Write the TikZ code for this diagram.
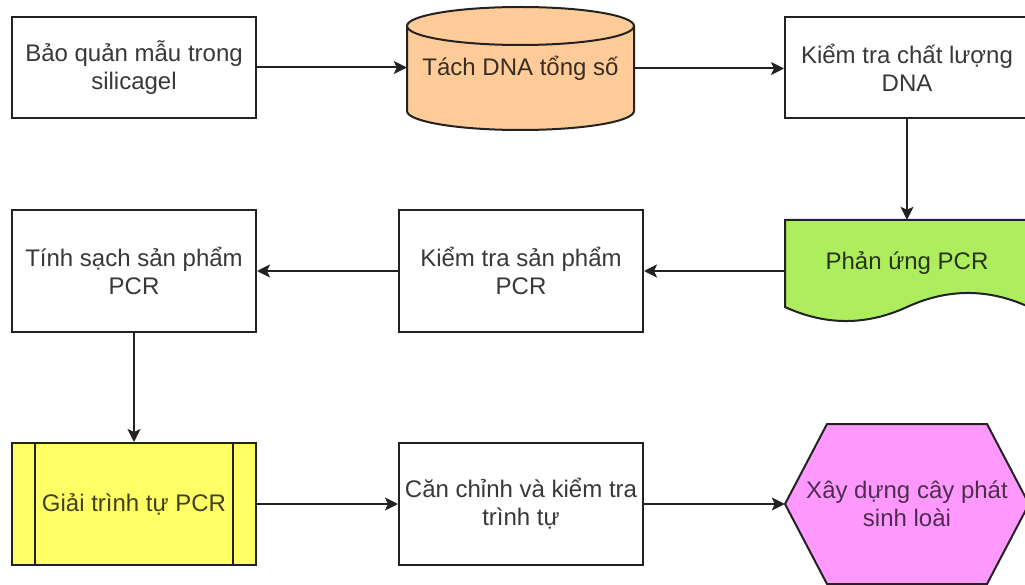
\documentclass[tikz,border=0pt]{standalone}
\usepackage{fontspec}
\setmainfont{Liberation Sans}
\usetikzlibrary{arrows.meta}
\definecolor{edge}{HTML}{222222}
\definecolor{cylfill}{HTML}{FFCC99}
\definecolor{docfill}{HTML}{AEEE5E}
\definecolor{seqfill}{HTML}{FFFF66}
\definecolor{hexfill}{HTML}{FF99FF}
\begin{document}
\begin{tikzpicture}[x=1pt,y=-1pt,
  lbl/.style={font=\fontsize{24}{28}\selectfont, align=center, text=black!78, inner sep=0pt},
  stepbox/.style={lbl, draw=edge, line width=2pt, fill=white, minimum width=244pt, minimum height=122pt},
  outline/.style={draw=edge, line width=2pt},
  flow/.style={draw=edge, line width=2pt, -{Stealth[length=13pt,width=13pt,inset=3pt]}},
]
\clip (0,0) rectangle (1025,585);

% ---- shapes drawn as plain paths ----
% cylinder: DNA extraction
\filldraw[outline, fill=cylfill] (407,26) -- (407,111)
  .. controls (407,121.5) and (457.8,130) .. (520.5,130)
  .. controls (583.2,130) and (634,121.5) .. (634,111) -- (634,26);
\filldraw[outline, fill=cylfill] (520.5,26) ellipse [x radius=113.5, y radius=19];

% document shape: PCR reaction
\filldraw[outline, fill=docfill] (785,220) -- (1029,220) -- (1029,307)
  .. controls (988.3,288.3) and (947.7,288.3) .. (907,307)
  .. controls (866.3,325.7) and (825.7,325.7) .. (785,307) -- cycle;

% hexagon: phylogenetic tree
\filldraw[outline, fill=hexfill] (785,504) -- (827,424) -- (987,424) -- (1029,504)
  -- (987,584) -- (827,584) -- cycle;

% ---- nodes ----
\node[stepbox, minimum height=101pt] (store) at (134,67.5) {Bảo quản mẫu trong\\silicagel};
\node[lbl, minimum width=227pt, minimum height=123pt, text=cylfill!22!black] (extract) at (520.5,68.5)
  {\raisebox{3pt}{Tách DNA tổng số}};
\node[stepbox, minimum height=101pt] (check) at (907,67.5) {Kiểm tra chất lượng\\DNA};

\node[lbl, minimum width=244pt, minimum height=87pt, text=docfill!22!black] (pcr) at (907,263.5)
  {\raisebox{6.5pt}{Phản ứng PCR}};
\node[stepbox] (verify) at (521,271) {Kiểm tra sản phẩm\\PCR};
\node[stepbox] (purify) at (134,271) {Tính sạch sản phẩm\\PCR};

\node[stepbox, fill=seqfill, text=seqfill!25!black] (seq) at (134,504) {Giải trình tự PCR};
\draw[outline] ([xshift=24pt]seq.north west) -- ([xshift=24pt]seq.south west);
\draw[outline] ([xshift=-24pt]seq.north east) -- ([xshift=-24pt]seq.south east);
\node[stepbox] (align) at (521,504) {Căn chỉnh và kiểm tra\\trình tự};
\node[lbl, minimum width=244pt, minimum height=160pt, text=hexfill!30!black] (tree) at (907,504)
  {Xây dựng cây phát\\sinh loài};

% ---- connectors ----
\draw[flow] (store.east) -- (store.east -| extract.west);
\draw[flow] (extract.east) -- (extract.east -| check.west);
\draw[flow] (check.south) -- (check.south |- pcr.north);
\draw[flow] (pcr.west |- verify.east) -- (verify.east);
\draw[flow] (verify.west) -- (purify.east);
\draw[flow] (purify.south) -- (seq.north);
\draw[flow] (seq.east) -- (align.west);
\draw[flow] (align.east) -- (tree.west);
\end{tikzpicture}
\end{document}
